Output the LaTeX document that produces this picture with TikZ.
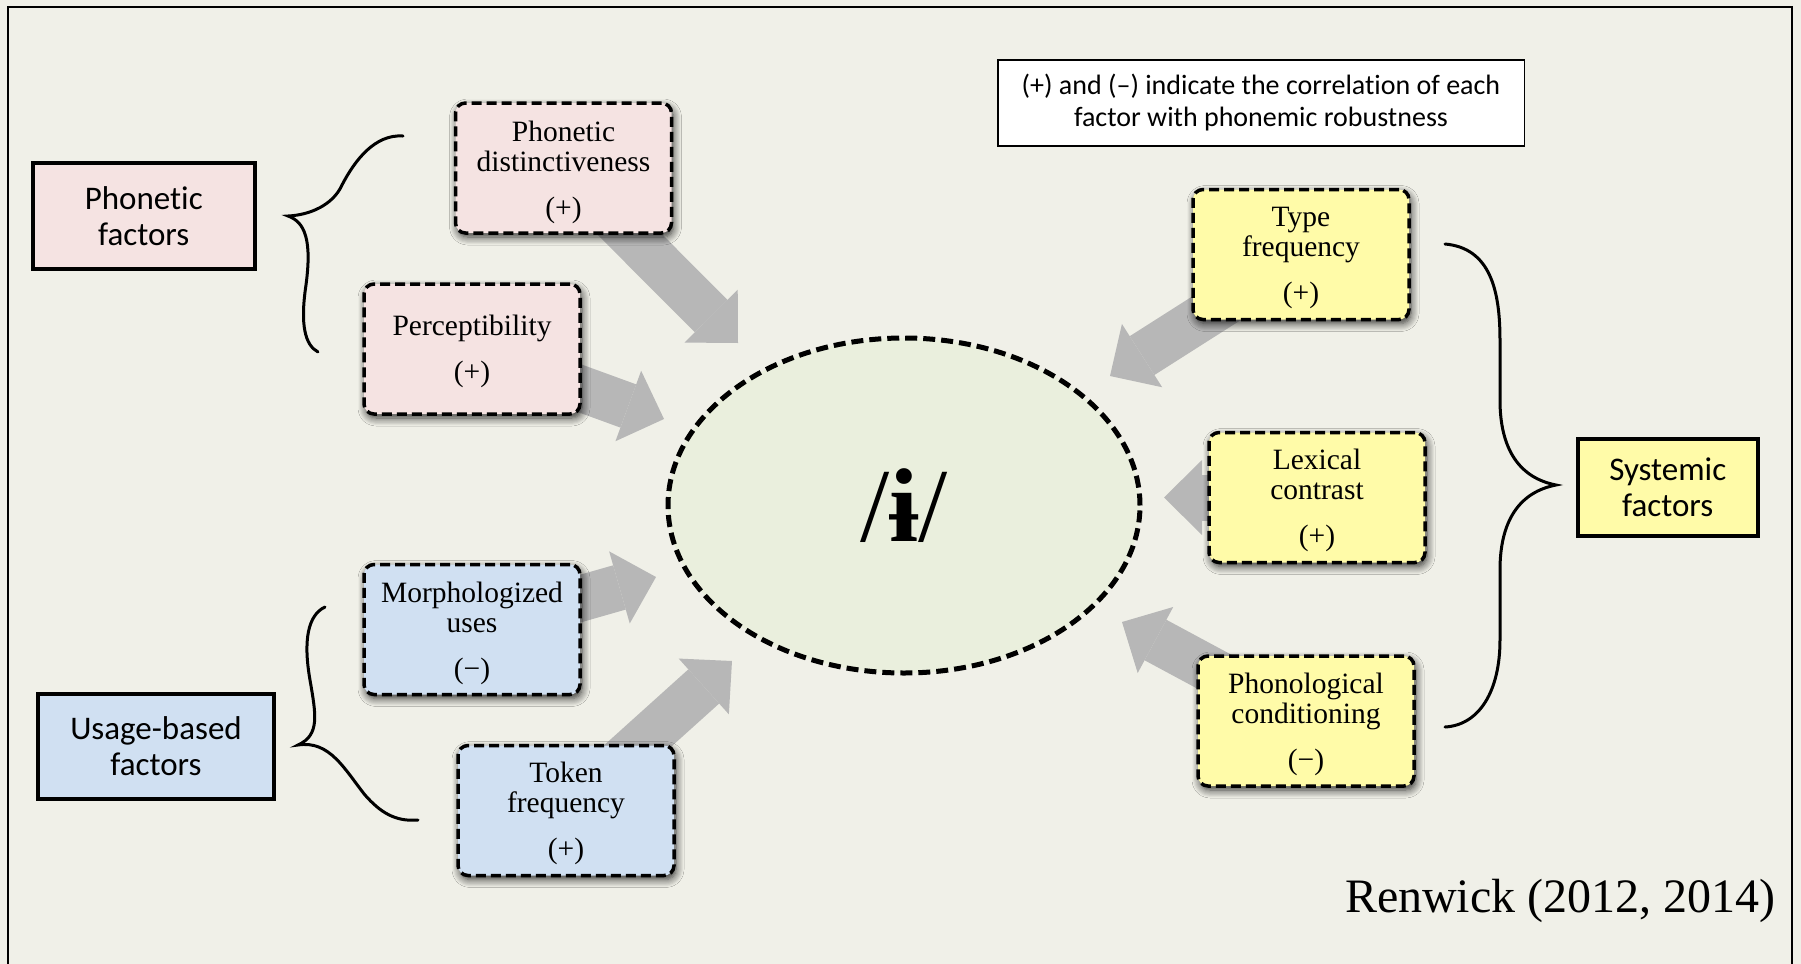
\documentclass[tikz,border=0pt]{standalone}
\usepackage{fontspec}
\setmainfont{Liberation Serif}
\newfontfamily\calib[Ligatures=NoCommon]{Carlito}
\usetikzlibrary{arrows.meta,shadows.blur,backgrounds,shapes.geometric}
\definecolor{bgc}{HTML}{F0F0E8}
\definecolor{ellc}{HTML}{EAEFDD}
\definecolor{pinkc}{HTML}{F5E3E2}
\definecolor{bluec}{HTML}{D0E0F2}
\definecolor{yelc}{HTML}{FFFBA8}
\definecolor{arrc}{HTML}{B7B7B7}
\tikzset{
  factor/.style={draw, line width=1.75pt, dash pattern=on 5pt off 2.5pt,
    rounded corners=5pt, minimum width=108pt, minimum height=65pt,
    inner sep=0pt,
    blur shadow={shadow blur steps=8, shadow xshift=1pt, shadow yshift=-2pt,
      shadow blur radius=4pt, shadow opacity=80}},
  ftext/.style={inner sep=0pt, align=center, font=\fontsize{14.75}{15}\selectfont},
  category/.style={draw, line width=2pt, inner sep=0pt, align=center,
    font=\calib\fontsize{16.5}{18}\selectfont},
  bigarrow/.style={draw=arrc, line width=23pt,
    -{Triangle[width=37.5pt, length=19pt, line width=0pt, fill=arrc]}},
  bracepath/.style={line width=1.5pt, line cap=round},
}
\begin{document}
\begin{tikzpicture}[x=0.5pt, y=-0.5pt]
\useasboundingbox (0,0) rectangle (1801,964);

% category boxes
\node[category, fill=pinkc, minimum width=110.75pt, minimum height=53pt] (pf) at (143.75,216) {Phonetic\\factors};
\node[category, fill=bluec, minimum width=118pt, minimum height=52.5pt] (uf) at (156,746.5) {Usage-based\\factors};
\node[category, fill=yelc, minimum width=89.75pt, minimum height=48.5pt] (sf) at (1667.75,487.5) {Systemic\\factors};

% note
\node[draw, fill=white, line width=0.75pt, minimum width=263.25pt, minimum height=43pt,
  inner sep=0pt, align=center, font=\calib\fontsize{14}{16}\selectfont] (note) at (1261,103)
  {(+) and (–) indicate the correlation of each\\factor with phonemic robustness};

% factor boxes
\node[factor, fill=pinkc] (pd) at (563.5,168) {};
\node[factor, fill=pinkc] (pc) at (472,349) {};
\node[factor, fill=bluec] (mu) at (472,629.5) {};
\node[factor, fill=bluec] (tf) at (566,810.5) {};
\node[factor, fill=yelc] (ty) at (1301,254.5) {};
\node[factor, fill=yelc] (lc) at (1317,497.5) {};
\node[factor, fill=yelc] (pcond) at (1306,721) {};

\node[ftext] (pdt) at ([yshift=-2pt]pd.center) {Phonetic\\distinctiveness\\[8pt](+)};
\node[ftext] (pct) at ([yshift=-1pt]pc.center) {Perceptibility\\[8pt](+)};
\node[ftext] (mut) at ([yshift=-2pt]mu.center) {Morphologized\\uses\\[8pt](−)};
\node[ftext] (tft) at ([yshift=-1.5pt]tf.center) {Token\\frequency\\[8pt](+)};
\node[ftext] (tyt) at ([yshift=-1.5pt]ty.center) {Type\\frequency\\[8pt](+)};
\node[ftext] (lct) at ([yshift=-1.5pt]lc.center) {Lexical\\contrast\\[8pt](+)};
\node[ftext] (pcondt) at ([yshift=-1.5pt]pcond.center) {Phonological\\conditioning\\[8pt](−)};

% central ellipse
\node[ellipse, draw, line width=2.5pt, dash pattern=on 6pt off 3pt, fill=ellc,
  minimum width=236pt, minimum height=167.5pt, inner sep=0pt,
  font=\fontsize{52.5}{56}\selectfont] (ell) at (904,505.5) {/\textbf{ɨ}/};

% reference
\node[anchor=base east, inner sep=0pt, font=\fontsize{24}{28}\selectfont] (ref) at (1776,912) {Renwick (2012, 2014)};

% arrow tips
\coordinate (t1) at (738,343);
\coordinate (t2) at (664,419);
\coordinate (t3) at (656,577);
\coordinate (t4) at (732,661);
\coordinate (t5) at (1110,376);
\coordinate (t6) at (1164,497.5);
\coordinate (t7) at (1122,622);

\begin{scope}[on background layer]
  \fill[bgc] (0,0) rectangle (1801,964);
  \draw[bigarrow] (pd.center) -- (t1);
  \draw[bigarrow] (pc.center) -- (t2);
  \draw[bigarrow] (mu.center) -- (t3);
  \draw[bigarrow] (tf.center) -- (t4);
  \draw[bigarrow] (ty.center) -- (t5);
  \draw[bigarrow] (lc.center) -- (t6);
  \draw[bigarrow] (pcond.center) -- (t7);
\end{scope}

% frame
\draw[line width=1.3pt] (8,975) -- (8,7) -- (1792,7) -- (1792,975);

% braces
\draw[bracepath] (403,136) .. controls (375,134) and (355,160) .. (342,185)
  .. controls (333,205) and (310,215) .. (288,216)
  .. controls (305,222) and (312,240) .. (306,285)
  .. controls (300,325) and (305,345) .. (318,352);
\draw[bracepath] (325,607) .. controls (308,615) and (303,640) .. (310,680)
  .. controls (316,715) and (320,735) .. (298,745)
  .. controls (330,740) and (345,770) .. (365,795)
  .. controls (380,812) and (395,822) .. (418,820);
\draw[bracepath] (1445,244) .. controls (1490,248) and (1500,290) .. (1500,340)
  -- (1500,400) .. controls (1500,450) and (1520,478) .. (1556,485)
  .. controls (1520,492) and (1500,520) .. (1500,570)
  -- (1500,640) .. controls (1500,690) and (1480,725) .. (1445,727);
\end{tikzpicture}
\end{document}
